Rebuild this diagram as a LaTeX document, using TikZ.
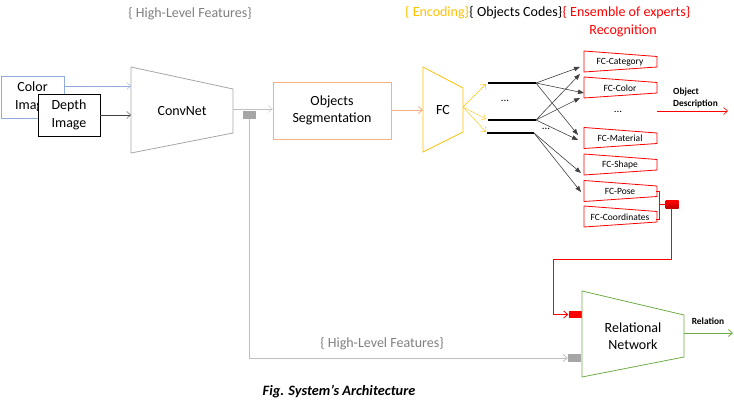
\documentclass[tikz,border=0pt]{standalone}
\usepackage{fontspec}
\setmainfont{Carlito}
\usetikzlibrary{arrows.meta,calc}
\definecolor{cblue}{HTML}{8FAADC}
\definecolor{cgray}{HTML}{A6A6A6}
\definecolor{lgray}{HTML}{BFBFBF}
\definecolor{tgray}{HTML}{7F7F7F}
\definecolor{dgray}{HTML}{404040}
\definecolor{corange}{HTML}{F4B183}
\definecolor{cgold}{HTML}{FFC000}
\definecolor{cgreen}{HTML}{70AD47}
\definecolor{cred}{HTML}{FF0000}
\definecolor{dred}{HTML}{C00000}
\begin{document}
\begin{tikzpicture}[x=1pt,y=-1pt,
  lbl/.style={font=\fontsize{14}{17.5}\selectfont, align=center, inner sep=0pt},
  toplbl/.style={font=\fontsize{14}{17}\selectfont, inner sep=0pt},
  small/.style={font=\fontsize{9.5}{11}\selectfont, inner sep=0pt},
  bsmall/.style={font=\fontsize{9.4}{12}\selectfont\bfseries, inner sep=0pt, align=left},
  openarr/.style={-{Straight Barb[length=4pt,width=7pt]}},
  fillarr/.style={-{Triangle[length=6pt,width=4.5pt]}},
  codeline/.style={line width=1.7pt, black},
  fcshape/.style={draw=cred, line width=0.8pt},
  port/.style={inner sep=0pt, minimum width=13pt, minimum height=7.5pt}
]
\useasboundingbox (0,0) rectangle (734,404);

% ---- inputs
\node (color) [draw=cblue, line width=0.8pt, minimum width=63pt, minimum height=42pt, lbl] at (32.5,97) {Color\\Image};
\node (depth) [draw=black, line width=0.8pt, fill=white, minimum width=62pt, minimum height=42pt, lbl] at (69,115) {Depth\\Image};

% ---- ConvNet
\draw[cgray, line width=0.8pt] (131,67) -- (233,89) -- (233,133) -- (131,153) -- cycle;
\node (convnet) [lbl] at (182,111) {ConvNet};
\coordinate (cnin1) at (131,86);
\coordinate (cnin2) at (131,115);
\coordinate (cnout) at (233,109);
\draw[cblue, openarr] (color.east |- cnin1) -- (cnin1);
\draw[dgray, openarr] (depth.east |- cnin2) -- (cnin2);

% ---- Segmentation
\node (seg) [draw=corange, line width=0.8pt, minimum width=118pt, minimum height=57pt, lbl] at (332,110.5) {Objects\\Segmentation};
\draw[lgray, openarr] (cnout) -- (cnout -| seg.west);

% gray port and feedback line
\node (gp1) [port, fill=cgray] at (249.5,115) {};
\node (gp2) [port, fill=cgray] at (574.5,358) {};
\draw[lgray, line width=0.8pt, openarr] (gp1.south) -- (gp1.south |- gp2) -- (gp2.west);
\node (hlf2) [toplbl, text=tgray] at (382,344) {\{ High-Level Features\}};

% ---- FC
\draw[cgold, line width=0.8pt] (423,67) -- (463,88) -- (463,132) -- (423,152) -- cycle;
\node (fc) [lbl] at (443,110) {FC};
\coordinate (fcin) at (423,110);
\coordinate (fcout) at (463,107);
\draw[corange, openarr, line width=0.8pt] (seg.east |- fcin) -- (fcin);

% code lines
\coordinate (l1a) at (488,83);  \coordinate (l1b) at (536,83);
\coordinate (l2a) at (488,120); \coordinate (l2b) at (536,120);
\coordinate (l3a) at (487,133); \coordinate (l3b) at (534,133);
\draw[codeline] (l1a) -- (l1b);
\draw[codeline] (l2a) -- (l2b);
\draw[codeline] (l3a) -- (l3b);
\draw[cgold, openarr] (fcout) -- ($(l1a)+(-2,1)$);
\draw[cgold, openarr] (fcout) -- ($(l2a)+(-2,-1)$);
\draw[cgold, openarr] (fcout) -- ($(l3a)+(-1,-1)$);
\node (dots1) [font=\fontsize{11}{12}\selectfont] at (505,101) {...};
\node (dots2) [font=\fontsize{11}{12}\selectfont] at (546,129) {...};

% ---- expert heads
\newcommand\fcbox[3]{%
  \draw[fcshape] (584,#2-10.5) -- (657,#2-5) -- (657,#2+5.5) -- (584,#2+10.5) -- cycle;
  \node (#1) [small] at (620,#2+0.5) {#3};}
\fcbox{cat}{61.5}{FC-Category}
\fcbox{col}{87.5}{FC-Color}
\fcbox{mat}{138}{FC-Material}
\fcbox{shp}{164.5}{FC-Shape}
\fcbox{pos}{191}{FC-Pose}
\fcbox{crd}{216.5}{FC-Coordinates}
\node (dots3) [font=\fontsize{11}{12}\selectfont] at (618,112) {...};

\coordinate (catin1) at (580,67);  \coordinate (catin2) at (580,74);
\coordinate (colin1) at (584,93);  \coordinate (colin2) at (580,98);
\coordinate (matin1) at (578,135); \coordinate (matin2) at (578,140);
\coordinate (shpin) at (581,173);  \coordinate (posin) at (581,192);
\begin{scope}[dgray, fillarr, line width=0.6pt]
\draw (l1b) -- (catin1);
\draw (l1b) -- (colin1);
\draw (l1b) -- (matin1);
\draw (l2b) -- (catin2);
\draw (l2b) -- (colin2);
\draw (l2b) -- (matin2);
\draw (l3b) -- (shpin);
\draw (l3b) -- (posin);
\end{scope}

% object description
\coordinate (odout) at (657,111);
\coordinate (odend) at (728,111);
\draw[cred, openarr, line width=0.6pt] (odout) -- (odend);
\node (od) [bsmall, anchor=south west] at (673,108) {Object\\Description};

% bracket + red port
\node (rp1) [port, top color=cred, bottom color=dred] at (672,204.5) {};
\node (rp2) [port, fill=cred] at (575,314.5) {};
\draw[cred, line width=0.8pt] (656,191) -- (659.5,191) -- (659.5,219) -- (656,219);
\draw[cred, line width=0.8pt] (659.5,204.5) -- (rp1.west);
\coordinate (rturn1) at (671,259);
\coordinate (rturn2) at (553,259);
\draw[cred, line width=0.8pt, openarr] (rp1.south -| rturn1) -- (rturn1) -- (rturn2) -- (rturn2 |- rp2) -- (rp2.west);

% ---- Relational network
\draw[cgreen, line width=0.8pt] (582,291) -- (684,315) -- (684,357) -- (582,377) -- cycle;
\node (rn) [lbl] at (633,336) {Relational\\Network};
\coordinate (rnout) at (684,333);
\coordinate (rnend) at (733,333);
\draw[cgreen, openarr, line width=0.8pt] (rnout) -- (rnend);
\node (rel) [bsmall] at (708,321) {Relation};

% ---- top labels
\node (hlf1) [toplbl, text=tgray] at (190,14) {\{ High-Level Features\}};
\node (enc) [toplbl, text=cgold, anchor=west] at (405,13) {\{ Encoding\}};
\node (codes) [toplbl, text=black, anchor=west] at (enc.east) {\{ Objects Codes\}};
\node (ens) [toplbl, text=cred, anchor=west] at (codes.east) {\{ Ensemble of experts\}};
\node (recog) [toplbl, text=cred] at (623,31) {Recognition};

% caption
\node (cap) [font=\fontsize{14.3}{16}\selectfont\bfseries\itshape, inner sep=0pt] at (339,392) {Fig. System's Architecture};
\end{tikzpicture}
\end{document}
